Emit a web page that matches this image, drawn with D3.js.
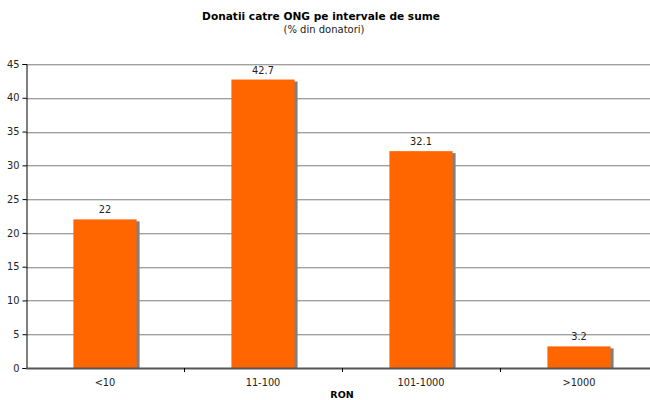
<!DOCTYPE html>
<html>
<head>
<meta charset="utf-8">
<script src="https://cdn.jsdelivr.net/npm/d3@7"></script>
<style>
  body { margin: 0; background: #fff; }
  svg { display: block; font-family: "DejaVu Sans", Verdana, sans-serif; }
</style>
</head>
<body>
<svg id="chart" width="650" height="400"></svg>
<script>
// Donation amount brackets (RON) and share of donors (%)
const categories = ["<10", "11-100", "101-1000", ">1000"];
const values = [22, 42.7, 32.1, 3.2];
const yTicks = [0, 5, 10, 15, 20, 25, 30, 35, 40, 45];

(function () {
const svg = d3.select("#chart");
const W = 650;
const mLeft = 26, mRight = 658, mTop = 64, mBottom = 368;
const fontFam = "DejaVu Sans, Verdana, sans-serif";

const x = d3.scaleBand().domain(categories).range([mLeft, mRight]).paddingInner(0).paddingOuter(0);
const y = d3.scaleLinear().domain([0, 45]).range([mBottom, mTop]);

// Title
svg.append("text").attr("x", 321).attr("y", 20).attr("text-anchor", "middle")
  .attr("font-size", 10.6).attr("font-weight", "bold").attr("fill", "#000")
  .text("Donatii catre ONG pe intervale de sume");
svg.append("text").attr("x", 324).attr("y", 33).attr("text-anchor", "middle")
  .attr("font-size", 10).attr("fill", "#222")
  .text("(% din donatori)");

// Horizontal gridlines
const gridVals = yTicks.filter(d => d > 0);
svg.append("g").selectAll("line").data(gridVals).join("line")
  .attr("x1", mLeft).attr("x2", W)
  .attr("y1", d => Math.round(y(d)) + 0.5).attr("y2", d => Math.round(y(d)) + 0.5)
  .attr("stroke", "#a0a0a0").attr("stroke-width", 1);
svg.append("g").selectAll("line").data(gridVals).join("line")
  .attr("x1", mLeft).attr("x2", W)
  .attr("y1", d => Math.round(y(d)) + 1.5).attr("y2", d => Math.round(y(d)) + 1.5)
  .attr("stroke", "#dcdcdc").attr("stroke-width", 1);

// Bars with a grey drop shadow
const bw = x.bandwidth() * 0.4;
const bx = d => x(d) + (x.bandwidth() - bw) / 2;
const bars = svg.append("g");
bars.selectAll("rect.shadow").data(categories).join("rect").attr("class", "shadow")
  .attr("x", d => bx(d) + 3).attr("width", bw)
  .attr("y", (d, i) => y(values[i]) + 2).attr("height", (d, i) => mBottom - y(values[i]) - 2)
  .attr("fill", "#808080");
bars.selectAll("rect.bar").data(categories).join("rect").attr("class", "bar")
  .attr("x", d => bx(d)).attr("width", bw)
  .attr("y", (d, i) => y(values[i])).attr("height", (d, i) => mBottom - y(values[i]))
  .attr("fill", "#ff6600");

// Value labels
svg.append("g").selectAll("text").data(categories).join("text")
  .attr("x", d => x(d) + x.bandwidth() / 2)
  .attr("y", (d, i) => y(values[i]) - 6)
  .attr("text-anchor", "middle").attr("font-size", 9.8).attr("fill", "#222")
  .text((d, i) => values[i]);

// Y axis
const yAxis = svg.append("g").attr("transform", `translate(${mLeft + 0.5},0)`)
  .call(d3.axisLeft(y).tickValues(yTicks).tickSize(4).tickPadding(3));
yAxis.select(".domain").attr("stroke", "#000");
yAxis.selectAll(".tick line").attr("stroke", "#000");
yAxis.selectAll("text").attr("font-size", 9.8).attr("fill", "#222")
  .attr("font-family", fontFam);

// X axis
const xAxis = svg.append("g").attr("transform", `translate(0,${mBottom})`)
  .call(d3.axisBottom(x).tickSize(0).tickPadding(0));
xAxis.select(".domain").remove();
xAxis.selectAll("text").attr("dy", null).attr("y", 18)
  .attr("font-size", 9.8).attr("fill", "#222").attr("font-family", fontFam);
svg.append("line").attr("x1", mLeft).attr("x2", W).attr("y1", mBottom + 0.5).attr("y2", mBottom + 0.5)
  .attr("stroke", "#555").attr("stroke-width", 2);
// Category separators
svg.append("g").selectAll("line").data(categories.slice(1)).join("line")
  .attr("x1", d => Math.round(x(d)) + 0.5).attr("x2", d => Math.round(x(d)) + 0.5)
  .attr("y1", mBottom).attr("y2", mBottom + 4).attr("stroke", "#000");

svg.append("text").attr("x", (mLeft + mRight) / 2).attr("y", 398).attr("text-anchor", "middle")
  .attr("font-size", 9.5).attr("font-weight", "bold").attr("fill", "#000").text("RON");
})();
</script>
</body>
</html>
